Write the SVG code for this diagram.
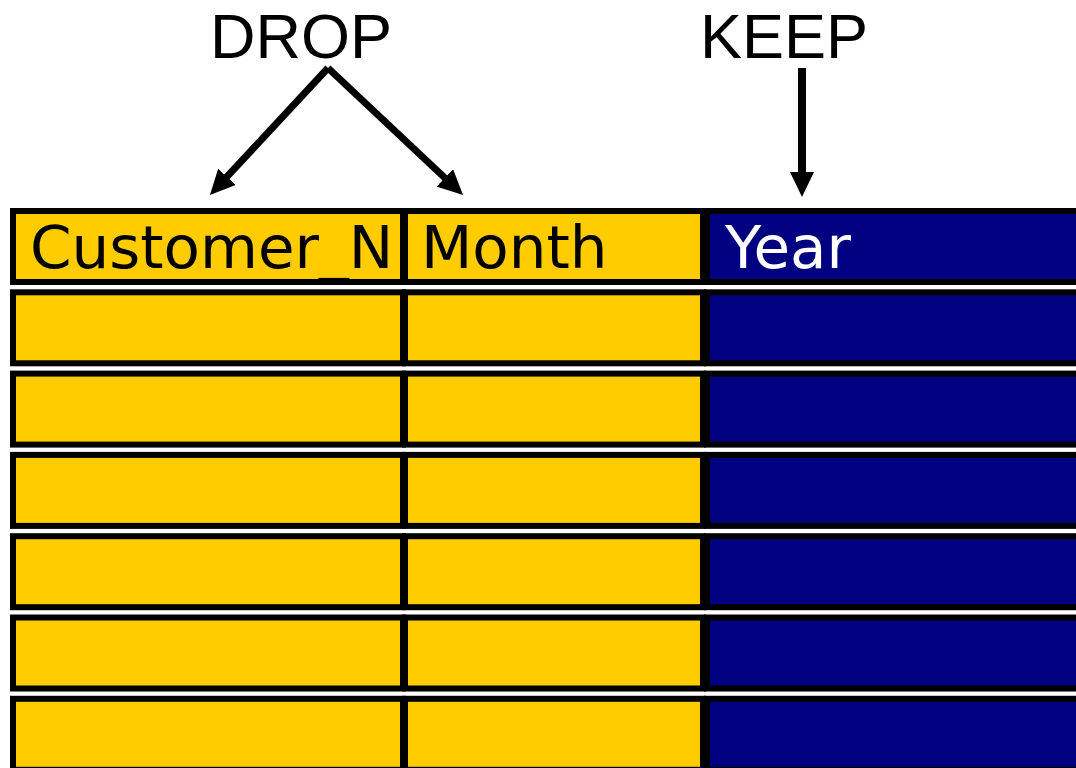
<svg xmlns="http://www.w3.org/2000/svg" width="1076" height="768" viewBox="0 0 1076 768">
<style>
.y{fill:#FFCC00;stroke:#000;stroke-width:6}
.b{fill:#000080;stroke:#000;stroke-width:6}
.t{font-family:"DejaVu Sans",Verdana,sans-serif;font-size:59.5px;fill:#000}
.tw{font-family:"DejaVu Sans",Verdana,sans-serif;font-size:59.5px;fill:#fff}
.lbl{font-family:"Liberation Sans",Arial,sans-serif;font-size:63px;fill:#000}
.c{stroke:#000;fill:none}
</style>
<defs>
<marker id="ah" viewBox="0 0 25 24" refX="2" refY="12" markerWidth="25" markerHeight="24" markerUnits="userSpaceOnUse" orient="auto">
<path d="M0,0 L25,12 L0,24 z" fill="#000"/>
</marker>
</defs>
<rect width="1076" height="768" fill="#fff"/>
<g id="label-drop"><text class="lbl" x="210" y="58">DROP</text></g>
<g id="label-keep"><text class="lbl" x="700" y="58">KEEP</text></g>
<g id="connectors">
<path class="c" d="M328,68 L225.6,178.2" stroke-width="7" marker-end="url(#ah)"/>
<path class="c" d="M328,68 L446.3,179.2" stroke-width="7" marker-end="url(#ah)"/>
<path class="c" d="M802,68 L802,174" stroke-width="8" marker-end="url(#ah)"/>
</g>
<g id="row0">
<g id="cell-customer"><rect class="y" x="13" y="211" width="390" height="71"/><text class="t" x="30" y="268">Customer_N</text></g>
<g id="cell-month"><rect class="y" x="405" y="211" width="298" height="71"/><text class="t" x="421" y="268">Month</text></g>
<g id="cell-year"><rect class="b" x="707" y="211" width="380" height="71"/><text class="tw" x="725" y="268">Year</text></g>
</g>
<g id="row1"><rect class="y" x="13" y="292.3" width="390" height="71"/><rect class="y" x="405" y="292.3" width="298" height="71"/><rect class="b" x="707" y="292.3" width="380" height="71"/></g>
<g id="row2"><rect class="y" x="13" y="373.6" width="390" height="71"/><rect class="y" x="405" y="373.6" width="298" height="71"/><rect class="b" x="707" y="373.6" width="380" height="71"/></g>
<g id="row3"><rect class="y" x="13" y="454.9" width="390" height="71"/><rect class="y" x="405" y="454.9" width="298" height="71"/><rect class="b" x="707" y="454.9" width="380" height="71"/></g>
<g id="row4"><rect class="y" x="13" y="536.2" width="390" height="71"/><rect class="y" x="405" y="536.2" width="298" height="71"/><rect class="b" x="707" y="536.2" width="380" height="71"/></g>
<g id="row5"><rect class="y" x="13" y="617.5" width="390" height="71"/><rect class="y" x="405" y="617.5" width="298" height="71"/><rect class="b" x="707" y="617.5" width="380" height="71"/></g>
<g id="row6"><rect class="y" x="13" y="698.8" width="390" height="71"/><rect class="y" x="405" y="698.8" width="298" height="71"/><rect class="b" x="707" y="698.8" width="380" height="71"/></g>
</svg>
